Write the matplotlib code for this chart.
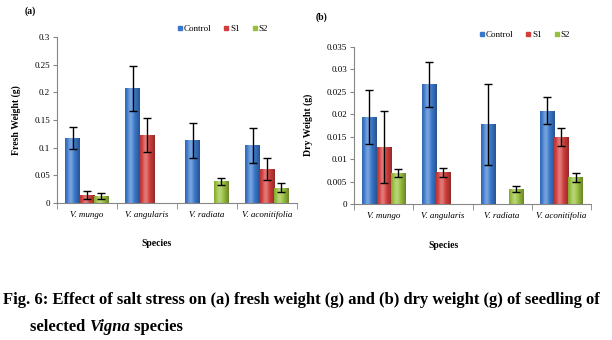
import numpy as np
import matplotlib
matplotlib.use("Agg")
import matplotlib.pyplot as plt
from matplotlib.colors import to_rgb
from matplotlib.lines import Line2D

# ---- data -------------------------------------------------------------
species = ["V. mungo", "V. angularis", "V. radiata", "V. aconitifolia"]
treatments = ["Control", "S1", "S2"]

fresh_control = [0.118, 0.207, 0.113, 0.104]
fresh_s1 = [0.015, 0.123, 0.0, 0.061]
fresh_s2 = [0.013, 0.0, 0.039, 0.028]
fresh_control_err = [0.020, 0.040, 0.031, 0.031]
fresh_s1_err = [0.007, 0.031, 0.0, 0.020]
fresh_s2_err = [0.005, 0.0, 0.007, 0.009]

dry_control = [0.0193, 0.0266, 0.0177, 0.0208]
dry_s1 = [0.0126, 0.0071, 0.0, 0.0149]
dry_s2 = [0.0068, 0.0, 0.0033, 0.0060]
dry_control_err = [0.0060, 0.0050, 0.0090, 0.0029]
dry_s1_err = [0.0080, 0.0010, 0.0, 0.0020]
dry_s2_err = [0.0009, 0.0, 0.0006, 0.0010]

fresh_ticks = [0, 0.05, 0.1, 0.15, 0.2, 0.25, 0.3]
fresh_tick_labels = ["0", "0.05", "0.1", "0.15", "0.2", "0.25", "0.3"]
dry_ticks = [0, 0.005, 0.01, 0.015, 0.02, 0.025, 0.03, 0.035]
dry_tick_labels = ["0", "0.005", "0.01", "0.015", "0.02", "0.025", "0.03", "0.035"]

colors = ["#3A78CC", "#D23E3C", "#98BF3C"]

SERIF = "Liberation Serif"
W, H = 612, 340

fig = plt.figure(figsize=(W / 100, H / 100), dpi=100)
fig.patch.set_facecolor("white")


def fx(px):
    return px / W


def fy(py):
    return 1 - py / H


def shade_profile(n=64):
    t = np.linspace(0, 1, n)
    return 0.32 * np.exp(-((t - 0.38) / 0.2) ** 2) - 0.32 * (np.abs(t - 0.4) / 0.6) ** 2


def gradient_bars(ax, bars, color):
    base = np.array(to_rgb(color))
    prof = shade_profile()
    img = np.zeros((1, len(prof), 3))
    for i, f in enumerate(prof):
        if f >= 0:
            img[0, i] = base + (1 - base) * f
        else:
            img[0, i] = base * (1 + f)
    for b in bars:
        h = b.get_height()
        if h <= 0:
            continue
        x0 = b.get_x()
        im = ax.imshow(img, extent=(x0, x0 + b.get_width(), 0, h),
                       aspect="auto", interpolation="bicubic", zorder=2)
        im.set_clip_path(b)


def panel(rect, series, errors, ticks, tick_labels, ylabel, ylabel_x):
    ax = fig.add_axes(rect)
    x = np.arange(len(species))
    w = 0.24
    for k, (vals, errs) in enumerate(zip(series, errors)):
        pos = x + (k - 1) * w
        bars = ax.bar(pos, vals, w, color=colors[k], edgecolor="none",
                      zorder=1, label=treatments[k])
        gradient_bars(ax, bars, colors[k])
        vals_a = np.array(vals)
        errs_a = np.array(errs)
        m = vals_a > 0
        ax.errorbar(pos[m], vals_a[m], yerr=errs_a[m], fmt="none",
                    ecolor="black", elinewidth=1.0, capsize=3, capthick=1.0,
                    zorder=4)
    ax.set_xlim(-0.5, len(species) - 0.5)
    ax.set_ylim(0, ticks[-1])
    ax.set_yticks(ticks)
    ax.set_yticklabels(tick_labels, fontfamily=SERIF, fontsize=6.5)
    ax.set_xticks(x)
    ax.set_xticklabels(species, fontfamily=SERIF, fontsize=6.5, style="italic")
    ax.set_xticks(np.arange(-0.5, len(species)), minor=True)
    ax.tick_params(axis="x", which="major", length=0, pad=6)
    ax.tick_params(axis="x", which="minor", length=4, color="#868686")
    ax.tick_params(axis="y", length=3, color="#868686", pad=2)
    for s in ["top", "right"]:
        ax.spines[s].set_visible(False)
    for s in ["left", "bottom"]:
        ax.spines[s].set_color("#868686")
        ax.spines[s].set_linewidth(0.8)
    ax.set_ylabel(ylabel, fontfamily=SERIF, fontsize=7, fontweight="bold")
    ax.yaxis.set_label_coords(ylabel_x, 0.5)
    return ax


ax_a = panel([fx(57), fy(203), fx(240), 166 / H],
             [fresh_control, fresh_s1, fresh_s2],
             [fresh_control_err, fresh_s1_err, fresh_s2_err],
             fresh_ticks, fresh_tick_labels, "Fresh Weight (g)", -0.15)
ax_b = panel([fx(354), fy(204), fx(237), 157.3 / H],
             [dry_control, dry_s1, dry_s2],
             [dry_control_err, dry_s1_err, dry_s2_err],
             dry_ticks, dry_tick_labels, "Dry Weight (g)", -0.175)

# panel letters
fig.text(fx(25), fy(11), "(a)", fontfamily=SERIF, fontsize=7,
         fontweight="bold", va="center")
fig.text(fx(316), fy(17), "(b)", fontfamily=SERIF, fontsize=7,
         fontweight="bold", va="center")

# x axis titles
fig.text(fx(157), fy(243), "Species", fontfamily=SERIF, fontsize=7,
         fontweight="bold", ha="center", va="center")
fig.text(fx(444), fy(246), "Species", fontfamily=SERIF, fontsize=7,
         fontweight="bold", ha="center", va="center")

# legends
handles = [Line2D([0], [0], marker="s", linestyle="none", markersize=3.5,
                  markerfacecolor=c, markeredgecolor=c) for c in colors]
for anchor in [(fx(177), fy(29)), (fx(479), fy(35))]:
    fig.legend(handles, treatments, loc="center left", bbox_to_anchor=anchor,
               ncol=3, frameon=False, handlelength=0.6, handletextpad=0.1,
               columnspacing=1.4, borderpad=0, borderaxespad=0,
               prop={"family": SERIF, "size": 6.5})

# caption
cap_kw = dict(fontfamily=SERIF, fontsize=12, fontweight="bold")
fig.text(fx(3), fy(304),
         "Fig. 6: Effect of salt stress on (a) fresh weight (g) and (b) dry "
         "weight (g) of seedling of", va="baseline", **cap_kw)
t1 = fig.text(fx(30), fy(331), "selected ", va="baseline", **cap_kw)
t2 = fig.text(0, 0, "Vigna", va="baseline", style="italic", **cap_kw)
t3 = fig.text(0, 0, " species", va="baseline", **cap_kw)
renderer = fig.canvas.get_renderer()
x_px = t1.get_window_extent(renderer).x1
t2.set_position((x_px / W, fy(331)))
x_px = t2.get_window_extent(renderer).x1
t3.set_position((x_px / W, fy(331)))

fig.savefig("out.png", dpi=100)
